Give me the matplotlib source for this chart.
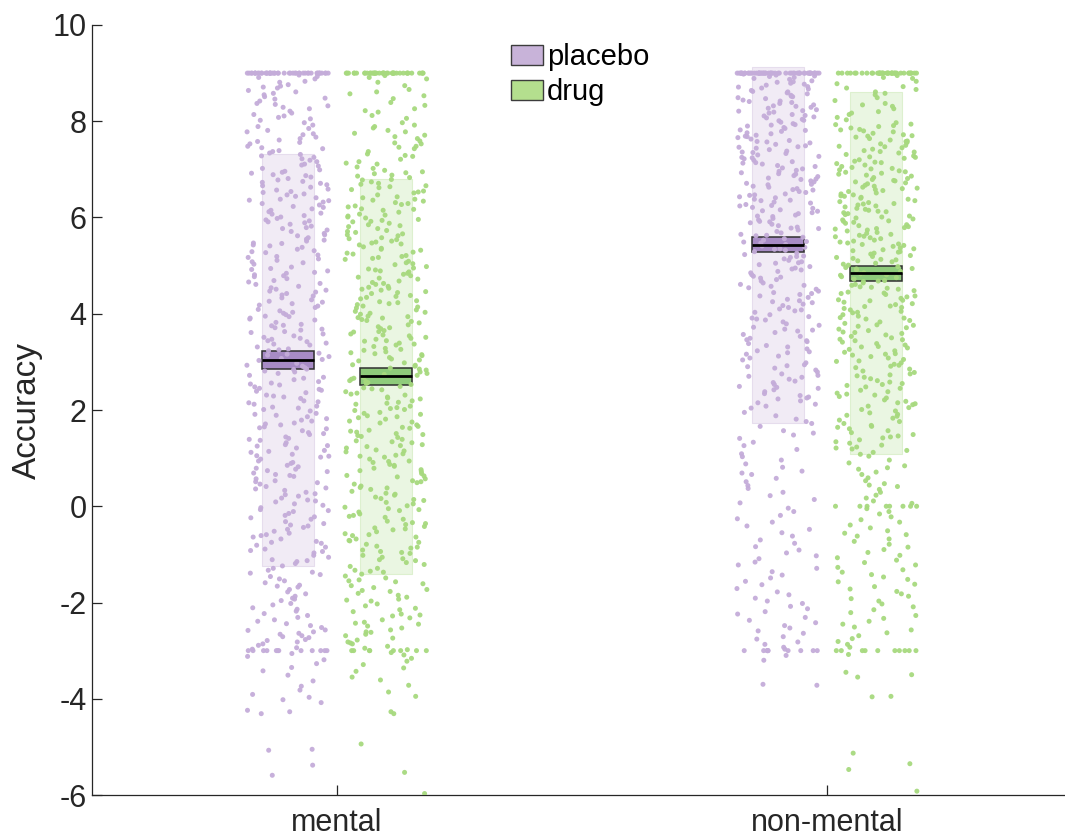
import numpy as np
import matplotlib
matplotlib.use('Agg')
import matplotlib.pyplot as plt
from matplotlib.patches import Rectangle, Patch

plt.rcParams['font.family'] = ['Liberation Sans', 'DejaVu Sans']
plt.rcParams['axes.unicode_minus'] = False

# ---------------- data ----------------
conditions = ['mental', 'non-mental']
treatments = ['placebo', 'drug']

mean_placebo = [3.04, 5.43]
mean_drug = [2.70, 4.84]
sem_placebo = [0.187, 0.156]
sem_drug = [0.177, 0.152]
sd_placebo = [4.28, 3.69]
sd_drug = [4.10, 3.76]

placebo_mental = (
    [9.0] * 45 +
    [8.96, 8.93, 8.88, 8.83, 8.81, 8.76, 8.71, 8.69, 8.64, 8.58, 8.55, 8.51, 8.46, 8.42, 8.37,
     8.35, 8.29, 8.26, 8.21, 8.14, 8.11, 8.05, 8.02, 8.91, 8.73, 8.61, 8.48, 8.32, 8.17, 8.08] +
    [7.97, 7.92, 7.85, 7.81, 7.78, 7.72, 7.67, 7.61, 7.56, 7.53, 7.48, 7.43, 7.39, 7.34, 7.28,
     7.25, 7.19, 7.16, 7.11, 7.07, 7.02, 7.89, 7.74, 7.58, 7.45, 7.31, 7.22, 7.09, 7.64, 7.37] +
    [6.99, 6.94, 6.92, 6.87, 6.84, 6.78, 6.75, 6.71, 6.66, 6.63, 6.59, 6.54, 6.52, 6.47, 6.44,
     6.38, 6.35, 6.32, 6.26, 6.23, 6.18, 6.15, 6.12, 6.07, 6.04, 6.01, 6.89, 6.81, 6.68, 6.57,
     6.49, 6.41, 6.29, 6.21, 6.09, 6.96, 6.73, 6.36] +
    [5.98, 5.95, 5.91, 5.86, 5.82, 5.79, 5.74, 5.71, 5.67, 5.62, 5.58, 5.55, 5.51, 5.47, 5.43,
     5.38, 5.34, 5.31, 5.27, 5.22, 5.19, 5.14, 5.11, 5.06, 5.03, 5.89, 5.77, 5.64, 5.53, 5.41,
     5.29, 5.17, 5.08, 5.93, 5.46] +
    [4.97, 4.94, 4.89, 4.86, 4.81, 4.77, 4.73, 4.69, 4.66, 4.61, 4.57, 4.54, 4.49, 4.45, 4.42,
     4.37, 4.33, 4.29, 4.26, 4.21, 4.18, 4.13, 4.09, 4.06, 4.01, 4.92, 4.79, 4.63, 4.51, 4.39,
     4.24, 4.16, 4.03, 4.84, 4.47] +
    [3.98, 3.94, 3.91, 3.87, 3.82, 3.78, 3.75, 3.71, 3.66, 3.63, 3.58, 3.54, 3.51, 3.47, 3.44,
     3.39, 3.35, 3.31, 3.27, 3.23, 3.18, 3.14, 3.11, 3.07, 3.03, 3.89, 3.76, 3.61, 3.49, 3.37,
     3.25, 3.16, 3.05, 3.95, 3.68, 3.42] +
    [2.97, 2.93, 2.88, 2.85, 2.81, 2.76, 2.72, 2.68, 2.63, 2.59, 2.56, 2.52, 2.48, 2.43, 2.39,
     2.36, 2.31, 2.27, 2.24, 2.19, 2.15, 2.12, 2.08, 2.04, 2.01, 2.91, 2.79, 2.66, 2.54, 2.41,
     2.29, 2.17, 2.06, 2.84, 2.45] +
    [1.98, 1.93, 1.89, 1.86, 1.82, 1.77, 1.73, 1.69, 1.65, 1.61, 1.57, 1.53, 1.49, 1.44, 1.41,
     1.37, 1.32, 1.28, 1.25, 1.21, 1.16, 1.12, 1.08, 1.05, 1.02, 1.91, 1.79, 1.63, 1.51, 1.39,
     1.26, 1.14, 1.04, 1.71] +
    [0.98, 0.94, 0.89, 0.85, 0.82, 0.77, 0.74, 0.69, 0.66, 0.62, 0.57, 0.53, 0.49, 0.46, 0.41,
     0.38, 0.33, 0.29, 0.26, 0.21, 0.17, 0.13, 0.09, 0.05, 0.02, 0.91, 0.79, 0.64, 0.51, 0.36,
     0.24, 0.11, 0.72] +
    [-0.03, -0.07, -0.11, -0.15, -0.19, -0.24, -0.27, -0.32, -0.36, -0.39, -0.44, -0.48, -0.52,
     -0.56, -0.61, -0.64, -0.68, -0.73, -0.77, -0.81, -0.85, -0.89, -0.94, -0.97, -0.09, -0.22,
     -0.41, -0.59, -0.75, -0.92] +
    [-1.02, -1.06, -1.11, -1.15, -1.19, -1.24, -1.29, -1.33, -1.37, -1.42, -1.46, -1.51, -1.55,
     -1.59, -1.64, -1.68, -1.73, -1.78, -1.82, -1.87, -1.91, -1.96, -1.13, -1.39, -1.66, -1.93] +
    [-2.02, -2.05, -2.11, -2.14, -2.18, -2.23, -2.27, -2.31, -2.36, -2.39, -2.44, -2.48, -2.52,
     -2.57, -2.61, -2.64, -2.69, -2.73, -2.77, -2.82, -2.86, -2.89, -2.94, -2.97, -2.58, -2.66,
     -2.71, -2.79] +
    [-3.0] * 12 +
    [-3.06, -3.12, -3.19, -3.27, -3.35, -3.42, -3.51, -3.63, -3.74, -3.82, -3.91, -3.97] +
    [-4.02, -4.08, -4.24, -4.27, -4.31, -5.05, -5.07, -5.38, -5.59]
)

drug_mental = (
    [9.0] * 40 +
    [8.95, 8.88, 8.81, 8.74, 8.66, 8.61, 8.53, 8.47, 8.39, 8.33, 8.26, 8.19, 8.12, 8.06, 8.91,
     8.57, 8.22] +
    [7.97, 7.92, 7.86, 7.81, 7.75, 7.71, 7.64, 7.59, 7.53, 7.48, 7.43, 7.37, 7.32, 7.27, 7.21,
     7.16, 7.11, 7.05, 7.02, 7.89, 7.68, 7.46, 7.29, 7.13, 7.55, 7.78] +
    [6.98, 6.95, 6.91, 6.86, 6.83, 6.78, 6.74, 6.71, 6.66, 6.62, 6.58, 6.55, 6.51, 6.47, 6.43,
     6.38, 6.34, 6.31, 6.27, 6.22, 6.18, 6.15, 6.11, 6.07, 6.03, 6.88, 6.79, 6.64, 6.53, 6.41,
     6.29, 6.17, 6.05, 6.93, 6.69, 6.36, 6.24, 6.01] +
    [5.99, 5.96, 5.92, 5.88, 5.85, 5.81, 5.77, 5.73, 5.69, 5.66, 5.62, 5.58, 5.54, 5.51, 5.47,
     5.43, 5.39, 5.36, 5.32, 5.28, 5.24, 5.21, 5.17, 5.13, 5.09, 5.06, 5.02, 5.94, 5.83, 5.71,
     5.64, 5.56, 5.45, 5.34, 5.26, 5.15, 5.04, 5.91, 5.49, 5.19] +
    [4.98, 4.95, 4.91, 4.87, 4.84, 4.79, 4.76, 4.72, 4.68, 4.65, 4.61, 4.57, 4.53, 4.49, 4.46,
     4.42, 4.38, 4.34, 4.31, 4.27, 4.23, 4.19, 4.16, 4.12, 4.08, 4.05, 4.01, 4.93, 4.82, 4.74,
     4.63, 4.55, 4.44, 4.36, 4.25, 4.14, 4.03, 4.89, 4.51, 4.21] +
    [3.99, 3.95, 3.92, 3.88, 3.84, 3.81, 3.77, 3.73, 3.69, 3.65, 3.62, 3.58, 3.54, 3.51, 3.47,
     3.43, 3.39, 3.35, 3.32, 3.28, 3.24, 3.21, 3.17, 3.13, 3.09, 3.06, 3.02, 3.94, 3.86, 3.71,
     3.63, 3.56, 3.44, 3.37, 3.26, 3.15, 3.04, 3.91, 3.49, 3.19] +
    [2.98, 2.94, 2.91, 2.87, 2.83, 2.79, 2.76, 2.72, 2.68, 2.64, 2.61, 2.57, 2.53, 2.49, 2.46,
     2.42, 2.38, 2.35, 2.31, 2.27, 2.23, 2.19, 2.16, 2.12, 2.08, 2.05, 2.01, 2.93, 2.85, 2.74,
     2.66, 2.55, 2.44, 2.33, 2.25, 2.14, 2.03, 2.59] +
    [1.99, 1.95, 1.91, 1.88, 1.84, 1.81, 1.77, 1.73, 1.69, 1.66, 1.62, 1.58, 1.54, 1.51, 1.47,
     1.43, 1.39, 1.36, 1.32, 1.28, 1.24, 1.21, 1.17, 1.13, 1.09, 1.06, 1.02, 1.93, 1.86, 1.75,
     1.64, 1.56, 1.45, 1.34, 1.26, 1.15, 1.04, 1.49] +
    [0.98, 0.94, 0.91, 0.87, 0.83, 0.79, 0.76, 0.72, 0.68, 0.64, 0.61, 0.57, 0.53, 0.49, 0.46,
     0.42, 0.38, 0.35, 0.31, 0.27, 0.23, 0.19, 0.16, 0.12, 0.08, 0.05, 0.01, 0.93, 0.85, 0.74,
     0.63, 0.51, 0.39, 0.25, 0.14] +
    [-0.02, -0.05, -0.09, -0.12, -0.16, -0.19, -0.23, -0.27, -0.31, -0.34, -0.38, -0.42, -0.45,
     -0.49, -0.53, -0.57, -0.61, -0.64, -0.68, -0.72, -0.75, -0.79, -0.83, -0.87, -0.91, -0.94,
     -0.98, -0.07, -0.21, -0.36, -0.47, -0.59, -0.71, -0.85, -0.96] +
    [-1.02, -1.06, -1.09, -1.13, -1.17, -1.21, -1.25, -1.29, -1.33, -1.37, -1.41, -1.45, -1.49,
     -1.53, -1.57, -1.61, -1.65, -1.69, -1.73, -1.77, -1.81, -1.85, -1.89, -1.93, -1.97, -1.11,
     -1.35, -1.55, -1.75, -1.95] +
    [-2.03, -2.07, -2.12, -2.15, -2.19, -2.24, -2.28, -2.32, -2.36, -2.41, -2.45, -2.49, -2.53,
     -2.57, -2.62, -2.66, -2.69, -2.74, -2.78, -2.82, -2.86, -2.91, -2.95, -2.98, -2.26, -2.43,
     -2.61, -2.84] +
    [-3.0] * 8 +
    [-3.04, -3.09, -3.16, -3.22, -3.29, -3.36, -3.43, -3.55, -3.61, -3.72, -3.86, -3.95] +
    [-4.27, -4.31, -4.94, -5.53, -5.97]
)

placebo_nonmental = (
    [9.0] * 55 +
    [8.98, 8.96, 8.94, 8.91, 8.89, 8.87, 8.84, 8.82, 8.79, 8.77, 8.75, 8.72, 8.69, 8.67, 8.64,
     8.62, 8.59, 8.57, 8.54, 8.52, 8.49, 8.47, 8.44, 8.42, 8.39, 8.37, 8.34, 8.32, 8.29, 8.27,
     8.24, 8.22, 8.19, 8.17, 8.14, 8.12, 8.09, 8.07, 8.04, 8.02, 8.93, 8.81, 8.71, 8.61, 8.51,
     8.41, 8.31, 8.21, 8.11, 8.01] +
    [7.98, 7.95, 7.93, 7.90, 7.87, 7.85, 7.82, 7.79, 7.76, 7.74, 7.71, 7.68, 7.66, 7.63, 7.60,
     7.57, 7.55, 7.52, 7.49, 7.46, 7.44, 7.41, 7.38, 7.36, 7.33, 7.30, 7.27, 7.25, 7.22, 7.19,
     7.16, 7.14, 7.11, 7.08, 7.06, 7.03, 7.92, 7.81, 7.69, 7.58, 7.47, 7.35, 7.24, 7.13, 7.01] +
    [6.98, 6.96, 6.93, 6.90, 6.87, 6.85, 6.82, 6.79, 6.76, 6.74, 6.71, 6.68, 6.65, 6.63, 6.60,
     6.57, 6.54, 6.52, 6.49, 6.46, 6.43, 6.41, 6.38, 6.35, 6.32, 6.30, 6.27, 6.24, 6.21, 6.19,
     6.16, 6.13, 6.10, 6.08, 6.05, 6.02, 6.91, 6.80, 6.69, 6.58, 6.47, 6.36, 6.25, 6.14, 6.03] +
    [5.98, 5.95, 5.92, 5.89, 5.86, 5.83, 5.80, 5.77, 5.74, 5.71, 5.68, 5.65, 5.62, 5.59, 5.56,
     5.53, 5.50, 5.47, 5.44, 5.41, 5.38, 5.35, 5.32, 5.29, 5.26, 5.23, 5.20, 5.17, 5.14, 5.11,
     5.08, 5.05, 5.02, 5.91, 5.78, 5.63, 5.49, 5.34, 5.19, 5.06] +
    [4.98, 4.95, 4.91, 4.88, 4.85, 4.81, 4.78, 4.74, 4.71, 4.68, 4.64, 4.61, 4.57, 4.54, 4.51,
     4.47, 4.44, 4.40, 4.37, 4.34, 4.30, 4.27, 4.23, 4.20, 4.17, 4.13, 4.10, 4.06, 4.03, 4.93,
     4.76, 4.59, 4.42, 4.25, 4.08] +
    [3.98, 3.94, 3.91, 3.87, 3.83, 3.79, 3.76, 3.72, 3.68, 3.64, 3.61, 3.57, 3.53, 3.49, 3.46,
     3.42, 3.38, 3.34, 3.31, 3.27, 3.23, 3.19, 3.16, 3.12, 3.08, 3.04, 3.89, 3.66, 3.44, 3.21] +
    [2.98, 2.94, 2.90, 2.87, 2.83, 2.79, 2.75, 2.72, 2.68, 2.64, 2.60, 2.57, 2.53, 2.49, 2.45,
     2.42, 2.38, 2.34, 2.30, 2.27, 2.23, 2.19, 2.15, 2.12, 2.08, 2.04, 2.92, 2.70, 2.47, 2.25] +
    [1.95, 1.88, 1.81, 1.76, 1.72, 1.66, 1.57, 1.48, 1.41, 1.33, 1.26, 1.18, 1.09, 1.03, 1.52] +
    [0.96, 0.88, 0.81, 0.73, 0.66, 0.58, 0.51, 0.43, 0.37, 0.29, 0.22, 0.14, 0.07, 0.69] +
    [-0.04, -0.11, -0.19, -0.26, -0.33, -0.41, -0.48, -0.55, -0.62, -0.70, -0.77, -0.84, -0.91,
     -0.97] +
    [-1.03, -1.09, -1.16, -1.22, -1.29, -1.36, -1.43, -1.49, -1.56, -1.63, -1.71, -1.78, -1.84,
     -1.91, -1.97] +
    [-2.02, -2.08, -2.13, -2.19, -2.24, -2.31, -2.37, -2.42, -2.48, -2.53, -2.59, -2.64, -2.71,
     -2.76, -2.82, -2.87, -2.93, -2.97] +
    [-3.0] * 10 +
    [-3.10, -3.20, -3.70, -3.72]
)

drug_nonmental = (
    [9.0] * 40 +
    [8.78, 8.72, 8.95, 8.89, 8.83, 8.66, 8.61, 8.55, 8.49, 8.43, 8.37, 8.31, 8.26, 8.20, 8.14,
     8.08, 8.03, 8.91, 8.58, 8.34, 8.17, 8.69] +
    [7.97, 7.94, 7.91, 7.89, 7.86, 7.83, 7.80, 7.78, 7.75, 7.72, 7.69, 7.67, 7.64, 7.61, 7.58,
     7.56, 7.53, 7.50, 7.47, 7.45, 7.42, 7.39, 7.37, 7.34, 7.31, 7.28, 7.26, 7.23, 7.20, 7.17,
     7.15, 7.12, 7.09, 7.06, 7.04, 7.01, 7.93, 7.82, 7.70, 7.59, 7.48, 7.36, 7.25, 7.14, 7.02] +
    [6.99, 6.97, 6.95, 6.92, 6.90, 6.88, 6.86, 6.83, 6.81, 6.79, 6.76, 6.74, 6.72, 6.70, 6.67,
     6.65, 6.63, 6.60, 6.58, 6.56, 6.54, 6.51, 6.49, 6.47, 6.44, 6.42, 6.40, 6.38, 6.35, 6.33,
     6.31, 6.28, 6.26, 6.24, 6.22, 6.19, 6.17, 6.15, 6.12, 6.10, 6.08, 6.06, 6.03, 6.01, 6.94,
     6.77, 6.61, 6.45, 6.29, 6.13] +
    [5.99, 5.97, 5.95, 5.92, 5.90, 5.88, 5.85, 5.83, 5.81, 5.79, 5.76, 5.74, 5.72, 5.69, 5.67,
     5.65, 5.63, 5.60, 5.58, 5.56, 5.53, 5.51, 5.49, 5.47, 5.44, 5.42, 5.40, 5.37, 5.35, 5.33,
     5.31, 5.28, 5.26, 5.24, 5.21, 5.19, 5.17, 5.15, 5.12, 5.10, 5.08, 5.05, 5.03, 5.01, 5.93,
     5.77, 5.61, 5.45, 5.29, 5.13] +
    [4.98, 4.96, 4.93, 4.91, 4.88, 4.85, 4.83, 4.80, 4.77, 4.75, 4.72, 4.69, 4.67, 4.64, 4.61,
     4.59, 4.56, 4.53, 4.51, 4.48, 4.45, 4.43, 4.40, 4.37, 4.35, 4.32, 4.29, 4.27, 4.24, 4.21,
     4.19, 4.16, 4.13, 4.11, 4.08, 4.05, 4.03, 4.94, 4.81, 4.68, 4.55, 4.42, 4.28, 4.15, 4.02] +
    [3.98, 3.95, 3.92, 3.89, 3.86, 3.83, 3.80, 3.77, 3.74, 3.71, 3.68, 3.65, 3.62, 3.59, 3.56,
     3.53, 3.50, 3.47, 3.44, 3.41, 3.38, 3.35, 3.32, 3.29, 3.26, 3.23, 3.20, 3.17, 3.14, 3.11,
     3.08, 3.05, 3.02, 3.91, 3.76, 3.61, 3.46, 3.31, 3.16, 3.01] +
    [2.98, 2.95, 2.91, 2.88, 2.85, 2.81, 2.78, 2.75, 2.71, 2.68, 2.65, 2.61, 2.58, 2.55, 2.51,
     2.48, 2.45, 2.41, 2.38, 2.35, 2.31, 2.28, 2.25, 2.21, 2.18, 2.15, 2.11, 2.08, 2.05, 2.01,
     2.93, 2.73, 2.53, 2.33, 2.13] +
    [1.98, 1.94, 1.91, 1.87, 1.83, 1.79, 1.76, 1.72, 1.68, 1.64, 1.61, 1.57, 1.53, 1.49, 1.46,
     1.42, 1.38, 1.34, 1.31, 1.27, 1.23, 1.19, 1.16, 1.12, 1.08, 1.04, 1.89, 1.66, 1.44, 1.21] +
    [0.96, 0.90, 0.84, 0.77, 0.71, 0.66, 0.59, 0.53, 0.47, 0.41, 0.35, 0.29, 0.23, 0.17, 0.11,
     0.06, 0.80, 0.44] +
    [0.0] * 8 +
    [-0.05, -0.11, -0.16, -0.22, -0.28, -0.33, -0.39, -0.45, -0.51, -0.56, -0.62, -0.68, -0.73,
     -0.79, -0.85, -0.90, -0.96, -0.59] +
    [-1.02, -1.07, -1.12, -1.17, -1.22, -1.27, -1.32, -1.37, -1.42, -1.47, -1.52, -1.57, -1.62,
     -1.67, -1.72, -1.77, -1.82, -1.87, -1.92, -1.97] +
    [-2.03, -2.09, -2.15, -2.21, -2.27, -2.33, -2.39, -2.45, -2.51, -2.57, -2.63, -2.69, -2.75,
     -2.81, -2.87, -2.93] +
    [-3.0] * 10 +
    [-3.08, -3.45, -3.50, -3.55, -3.95, -3.96, -5.13, -5.35, -5.47, -5.92]
)

values = {
    ('mental', 'placebo'): placebo_mental,
    ('mental', 'drug'): drug_mental,
    ('non-mental', 'placebo'): placebo_nonmental,
    ('non-mental', 'drug'): drug_nonmental,
}
means = {'placebo': mean_placebo, 'drug': mean_drug}
sems = {'placebo': sem_placebo, 'drug': sem_drug}
sds = {'placebo': sd_placebo, 'drug': sd_drug}

# ---------------- style ----------------
point_col = {'placebo': '#C4ACD9', 'drug': '#A7D97E'}
band_col = {'placebo': '#F1EBF5', 'drug': '#EAF6E2'}
band_edge = {'placebo': '#E6DDED', 'drug': '#DDF0CF'}
se_col = {'placebo': '#A78BC5', 'drug': '#8ECB7B'}
legend_col = {'placebo': '#C8B3D9', 'drug': '#B4DF8E'}
offset = {'placebo': -0.1, 'drug': 0.1}
jitter_half = 0.084
box_half = 0.054
axis_col = '#262626'
PHI = 0.6180339887

W, H = 1065, 838
fig = plt.figure(figsize=(W / 100, H / 100), dpi=100)
ax = fig.add_axes([92 / W, 43 / H, 980 / W, 770 / H])


def jitter(n, k):
    # deterministic horizontal spread: the evenly distributed golden-ratio set of
    # offsets, handed out to the points in a scrambled (hash-sorted) order
    i = np.arange(n, dtype=float)
    order = np.argsort(np.abs(np.sin((i + 97.0 * k) * 12.9898 + 78.233) * 43758.5453) % 1.0)
    slots = np.empty(n)
    slots[order] = np.arange(n)
    u = ((slots + 0.5) * PHI + 0.21 * k) % 1.0
    return (u - 0.5) * 2.0 * jitter_half


k = 0
for ci, cond in enumerate(conditions):
    xc_base = ci + 1
    for t in treatments:
        xc = xc_base + offset[t]
        m, se, sd = means[t][ci], sems[t][ci], sds[t][ci]
        ax.add_patch(Rectangle((xc - box_half, m - sd), 2 * box_half, 2 * sd,
                               facecolor=band_col[t], edgecolor=band_edge[t], lw=0.8, zorder=1))
        ax.add_patch(Rectangle((xc - box_half, m - se), 2 * box_half, 2 * se,
                               facecolor=se_col[t], edgecolor='#303030', lw=1.1, zorder=2))
        y = np.array(values[(cond, t)])
        x = xc + jitter(len(y), k)
        k += 1
        ax.scatter(x, y, s=13, color=point_col[t], edgecolors='none', alpha=0.95, zorder=3)
        ax.plot([xc - box_half, xc + box_half], [m, m], color='black', lw=2.0, zorder=4,
                solid_capstyle='butt')

ax.set_xlim(0.5, 2.5)
ax.set_ylim(-6, 10)
ax.set_xticks([1, 2])
ax.set_xticklabels(conditions)
ax.set_yticks(np.arange(-6, 11, 2))
ax.tick_params(axis='both', direction='in', length=7, width=0.9, colors=axis_col,
               labelsize=22)
ax.tick_params(axis='x', pad=9)
ax.tick_params(axis='y', pad=4)
for s in ['top', 'right']:
    ax.spines[s].set_visible(False)
for s in ['left', 'bottom']:
    ax.spines[s].set_color(axis_col)
    ax.spines[s].set_linewidth(0.9)
ax.set_ylabel('Accuracy', fontsize=24, color=axis_col)
ax.yaxis.set_label_coords(-0.050, 0.5)

handles = [Patch(facecolor=legend_col[t], edgecolor='#3c3c3c', lw=1.0, label=t)
           for t in treatments]
fig.legend(handles=handles, loc='upper left', bbox_to_anchor=(511 / W, 1 - 43 / H),
           frameon=False, fontsize=21, handlelength=1.1, handleheight=0.7,
           handletextpad=0.12, labelspacing=0.25, borderpad=0, borderaxespad=0)

fig.savefig('out.png', dpi=100)
